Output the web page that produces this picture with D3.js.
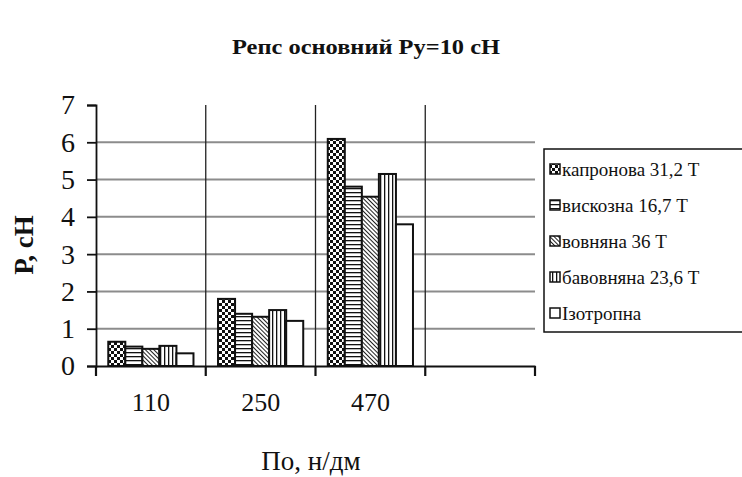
<!DOCTYPE html>
<html><head><meta charset="utf-8">
<script src="https://cdn.jsdelivr.net/npm/d3@7"></script>
<style>body{margin:0;background:#fff}svg{display:block}</style>
</head><body>
<script>
const categories = ["110", "250", "470", ""];
const seriesNames = ["капронова 31,2 Т", "вискозна 16,7 Т", "вовняна 36 Т", "бавовняна 23,6 Т", "Ізотропна"];
const kapron = [0.65, 1.80, 6.09, null];
const viscose = [0.52, 1.40, 4.81, null];
const wool = [0.46, 1.32, 4.54, null];
const cotton = [0.54, 1.50, 5.15, null];
const isotropic = [0.34, 1.21, 3.80, null];
const yTicks = [0, 1, 2, 3, 4, 5, 6, 7];
const title = "Репс основний Ру=10 сН";
const yTitle = "Р, сН";
const xTitle = "По, н/дм";

const series = [kapron, viscose, wool, cotton, isotropic];
const patterns = ["pChk", "pHor", "pDiag", "pVert", "pNone"];

const W = 742, H = 477;
const svg = d3.select("body").append("svg").attr("width", W).attr("height", H);
const defs = svg.append("defs");
let p = defs.append("pattern").attr("id", "pChk").attr("patternUnits", "userSpaceOnUse").attr("width", 6).attr("height", 6);
p.append("rect").attr("width", 6).attr("height", 6).attr("fill", "#fff");
p.append("rect").attr("width", 3).attr("height", 3).attr("fill", "#111");
p.append("rect").attr("x", 3).attr("y", 3).attr("width", 3).attr("height", 3).attr("fill", "#111");
p = defs.append("pattern").attr("id", "pHor").attr("patternUnits", "userSpaceOnUse").attr("width", 4).attr("height", 4);
p.append("rect").attr("width", 4).attr("height", 4).attr("fill", "#fff");
p.append("rect").attr("width", 4).attr("height", 1.3).attr("fill", "#111");
p = defs.append("pattern").attr("id", "pDiag").attr("patternUnits", "userSpaceOnUse").attr("width", 3).attr("height", 3).attr("patternTransform", "rotate(45)");
p.append("rect").attr("width", 3).attr("height", 3).attr("fill", "#fff");
p.append("rect").attr("width", 3).attr("height", 1).attr("fill", "#222");
p = defs.append("pattern").attr("id", "pVert").attr("patternUnits", "userSpaceOnUse").attr("width", 4).attr("height", 4);
p.append("rect").attr("width", 4).attr("height", 4).attr("fill", "#fff");
p.append("rect").attr("width", 1.3).attr("height", 4).attr("fill", "#111");

const m = {l: 96, r: 535, t: 105, b: 366};
const x = d3.scaleBand().domain(categories).range([m.l, m.r]).padding(0);
const y = d3.scaleLinear().domain([0, 7]).range([m.b, m.t]);
const inner = d3.scaleBand().domain(d3.range(series.length)).range([0, x.bandwidth()]).paddingOuter(0.72).paddingInner(0);

const font = "'Liberation Serif', 'Times New Roman', serif";

svg.append("g").selectAll("line").data(yTicks.filter(d => d > 0 && d < 7)).join("line")
  .attr("x1", m.l).attr("x2", m.r).attr("y1", d => y(d)).attr("y2", d => y(d))
  .attr("stroke", "#8c8c8c").attr("stroke-width", 2);
svg.append("g").selectAll("line").data(categories.slice(1)).join("line")
  .attr("x1", d => x(d)).attr("x2", d => x(d)).attr("y1", m.t).attr("y2", m.b)
  .attr("stroke", "#222").attr("stroke-width", 1.3);

categories.forEach((c, ci) => {
  series.forEach((s, si) => {
    const v = s[ci];
    if (v == null) return;
    svg.append("rect")
      .attr("x", x(c) + inner(si)).attr("width", inner.bandwidth())
      .attr("y", y(v)).attr("height", y(0) - y(v))
      .attr("fill", patterns[si] === "pNone" ? "#fff" : `url(#${patterns[si]})`)
      .attr("stroke", "#111").attr("stroke-width", 2);
  });
});

const ya = svg.append("g").attr("transform", `translate(${m.l},0)`)
  .call(d3.axisLeft(y).tickValues(yTicks).tickSize(9).tickPadding(12).tickFormat(d3.format("d")));
ya.select(".domain").attr("stroke", "#111").attr("stroke-width", 1.8);
ya.selectAll(".tick line").attr("stroke", "#111").attr("stroke-width", 1.8);
ya.selectAll("text").attr("font-family", font).attr("font-size", 28).attr("fill", "#111");

const xa = svg.append("g").attr("transform", `translate(0,${m.b})`)
  .call(d3.axisBottom(x).tickSize(0).tickPadding(27));
xa.select(".domain").attr("stroke", "#111").attr("stroke-width", 2.2);
xa.selectAll("text").attr("font-family", font).attr("font-size", 26).attr("fill", "#111").attr("dy", "0.71em");
svg.append("g").selectAll("line").data(categories.map(c => x(c)).concat([m.r])).join("line")
  .attr("x1", d => d).attr("x2", d => d).attr("y1", m.b).attr("y2", m.b + 10)
  .attr("stroke", "#111").attr("stroke-width", 2.2);

svg.append("text").attr("x", 366).attr("y", 54).attr("text-anchor", "middle")
  .attr("font-family", font).attr("font-weight", "bold").attr("font-size", 22).attr("fill", "#111")
  .attr("textLength", 268).attr("lengthAdjust", "spacingAndGlyphs").text(title);
svg.append("text").attr("transform", "translate(33,245) rotate(-90)").attr("text-anchor", "middle")
  .attr("font-family", font).attr("font-weight", "bold").attr("font-size", 27).attr("fill", "#111").text(yTitle);
svg.append("text").attr("x", 311).attr("y", 470).attr("text-anchor", "middle")
  .attr("font-family", font).attr("font-size", 27).attr("fill", "#111").text(xTitle);

const lg = svg.append("g");
lg.append("rect").attr("x", 544).attr("y", 149).attr("width", 200).attr("height", 183)
  .attr("fill", "#fff").attr("stroke", "#111").attr("stroke-width", 1.5);
const ly = d3.scalePoint().domain(seriesNames).range([169, 313]);
seriesNames.forEach((n, i) => {
  lg.append("rect").attr("x", 550).attr("y", ly(n) - 5).attr("width", 10).attr("height", 10)
    .attr("fill", patterns[i] === "pNone" ? "#fff" : `url(#${patterns[i]})`)
    .attr("stroke", "#111").attr("stroke-width", 1.5);
  lg.append("text").attr("x", 562).attr("y", ly(n)).attr("dy", "0.35em")
    .attr("font-family", font).attr("font-size", 19).attr("fill", "#111").text(n);
});
</script>
</body></html>
